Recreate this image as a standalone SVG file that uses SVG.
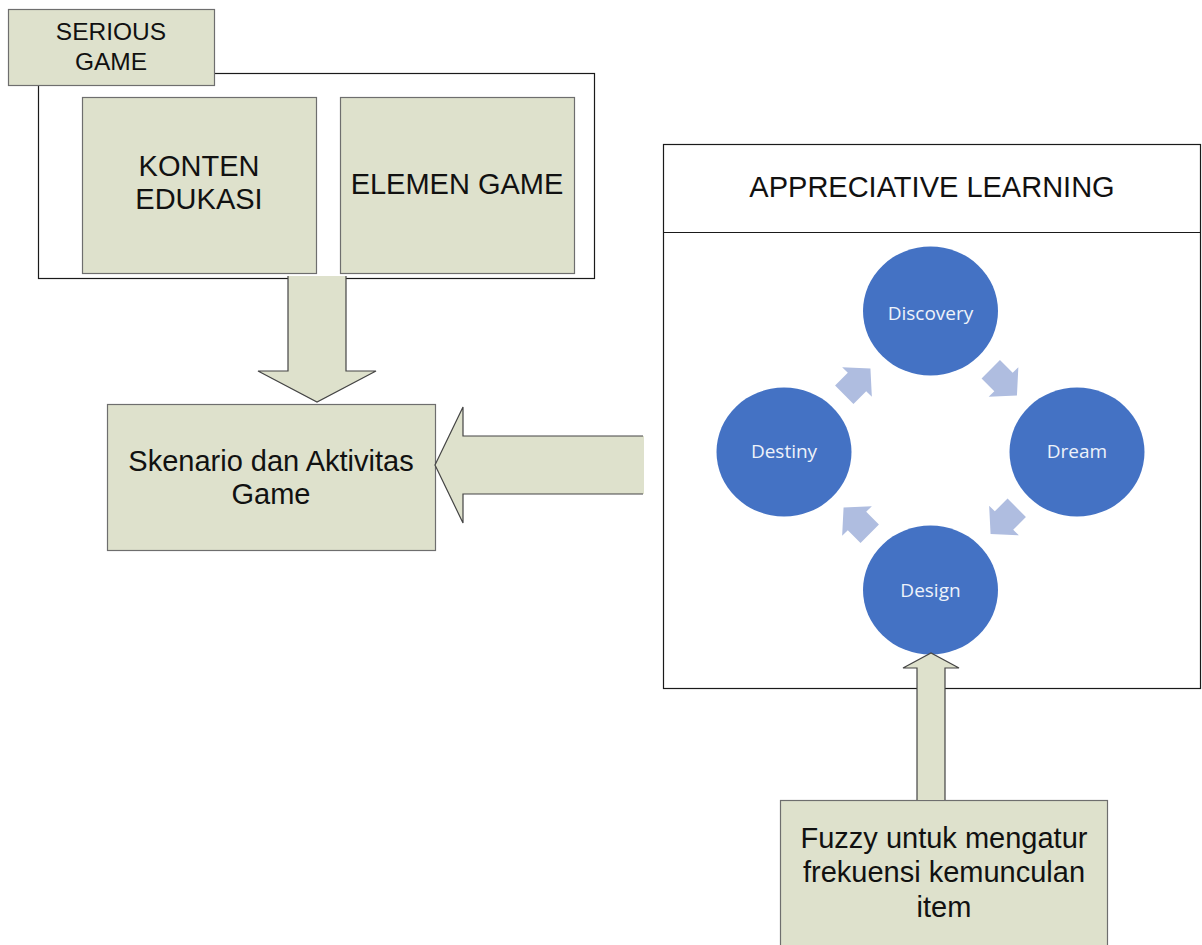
<svg xmlns="http://www.w3.org/2000/svg" width="1202" height="945" viewBox="0 0 1202 945">
<style>
.g{fill:#dee1cc;stroke:#6e6e6e;stroke-width:1.2}
.o{fill:#ffffff;stroke:#1a1a1a;stroke-width:1.2}
.ol{fill:none;stroke:#444;stroke-width:1.2;stroke-linejoin:miter}
.t{font-family:"Liberation Sans",Arial,sans-serif;font-size:29px;fill:#111;text-anchor:middle}
.c{fill:#4472c4}
.ct{font-family:"Open Sans","Noto Sans",sans-serif;font-size:19px;fill:#eef2fa;text-anchor:middle}
.sa{fill:#afbde0}
</style>
<defs>
<polygon id="sarrow" points="-18,-13 0,-13 0,-21 19,0 0,21 0,13 -18,13"/>
</defs>
<g id="serious-game">
<rect class="o" x="38.5" y="73.5" width="556" height="205"/>
<rect class="g" x="8.5" y="9.5" width="206" height="76"/>
<text class="t" style="font-size:24.5px" x="111" y="40">SERIOUS</text>
<text class="t" style="font-size:24.5px" x="111" y="70">GAME</text>
</g>
<g id="konten-edukasi">
<rect class="g" x="82.5" y="97.5" width="234" height="176"/>
<text class="t" x="199" y="176">KONTEN</text>
<text class="t" x="199" y="209">EDUKASI</text>
</g>
<g id="elemen-game">
<rect class="g" x="340.5" y="97.5" width="234" height="176"/>
<text class="t" x="457" y="194">ELEMEN GAME</text>
</g>
<g id="skenario">
<rect class="g" x="107.5" y="404.5" width="328" height="146"/>
<text class="t" x="271" y="471">Skenario dan Aktivitas</text>
<text class="t" x="271" y="504">Game</text>
</g>
<g id="appreciative-learning">
<rect class="o" x="663.5" y="144.5" width="537" height="544"/>
<line x1="663.5" y1="232.5" x2="1200.5" y2="232.5" stroke="#1a1a1a" stroke-width="1.2"/>
<text class="t" x="932" y="197">APPRECIATIVE LEARNING</text>
</g>
<g id="cycle-arrows">
<use href="#sarrow" class="sa" transform="translate(1003.5,382) rotate(45)"/>
<use href="#sarrow" class="sa" transform="translate(1004,520.5) rotate(135)"/>
<use href="#sarrow" class="sa" transform="translate(857,521) rotate(225)"/>
<use href="#sarrow" class="sa" transform="translate(857,382) rotate(315)"/>
</g>
<g id="discovery">
<ellipse class="c" cx="930.5" cy="311" rx="67.5" ry="64.5"/>
<text class="ct" x="930.5" y="320">Discovery</text>
</g>
<g id="dream">
<ellipse class="c" cx="1077" cy="452" rx="67.5" ry="64.5"/>
<text class="ct" x="1077" y="458">Dream</text>
</g>
<g id="design">
<ellipse class="c" cx="930.5" cy="590" rx="67.5" ry="64.5"/>
<text class="ct" x="930.5" y="597">Design</text>
</g>
<g id="destiny">
<ellipse class="c" cx="784" cy="452" rx="67.5" ry="64.5"/>
<text class="ct" x="784" y="458">Destiny</text>
</g>
<g id="fuzzy">
<rect class="g" x="780.5" y="800.5" width="327" height="160"/>
<text class="t" x="944" y="848">Fuzzy untuk mengatur</text>
<text class="t" x="944" y="882">frekuensi kemunculan</text>
<text class="t" x="944" y="917">item</text>
</g>
<g id="connectors">
<polygon points="288,276 346,276 346,371 376,371 317,402 258,371 288,371" fill="#dee1cc"/>
<polyline class="ol" points="288,276 288,371 258,371 317,402 376,371 346,371 346,276"/>
<polygon points="644,436 463,436 463,407 435,465 463,523 463,494 644,494" fill="#dee1cc"/>
<polyline class="ol" points="643,436 463,436 463,407 435,465 463,523 463,494 643,494"/>
<polygon points="917,800 917,668 903,668 931,653 959,668 945,668 945,800" fill="#dee1cc"/>
<polyline class="ol" points="917,800 917,668 903,668 931,653 959,668 945,668 945,800"/>
</g>
</svg>
